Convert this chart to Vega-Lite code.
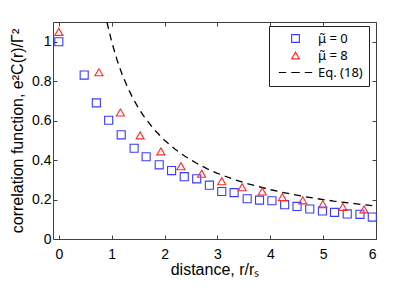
{
  "$schema": "https://vega.github.io/schema/vega-lite/v6.json",
  "width": 323,
  "height": 217,
  "autosize": "none",
  "padding": {"left": 53, "top": 22, "right": 39, "bottom": 54},
  "background": "white",
  "config": {
    "font": "Liberation Sans",
    "view": {"stroke": "#404040", "strokeWidth": 1},
    "axis": {
      "grid": false,
      "domain": false,
      "tickSize": -4,
      "tickColor": "#404040",
      "labelFont": "Liberation Sans",
      "labelFontSize": 14,
      "labelColor": "#000000",
      "titleFont": "Liberation Sans",
      "titleFontSize": 16,
      "titleFontWeight": "normal",
      "titleColor": "#000000"
    },
    "legend": {
      "labelFont": "Noto Sans",
      "labelFontSize": 13,
      "labelColor": "#000000"
    }
  },
  "data": {
    "values": [
      {"series": "μ̃ = 0", "x": 0.0, "y": 1.0},
      {"series": "μ̃ = 0", "x": 0.48, "y": 0.831},
      {"series": "μ̃ = 0", "x": 0.71, "y": 0.69},
      {"series": "μ̃ = 0", "x": 0.943, "y": 0.602},
      {"series": "μ̃ = 0", "x": 1.18, "y": 0.528},
      {"series": "μ̃ = 0", "x": 1.424, "y": 0.46},
      {"series": "μ̃ = 0", "x": 1.652, "y": 0.417},
      {"series": "μ̃ = 0", "x": 1.899, "y": 0.376},
      {"series": "μ̃ = 0", "x": 2.133, "y": 0.347},
      {"series": "μ̃ = 0", "x": 2.373, "y": 0.316},
      {"series": "μ̃ = 0", "x": 2.608, "y": 0.305},
      {"series": "μ̃ = 0", "x": 2.848, "y": 0.273},
      {"series": "μ̃ = 0", "x": 3.082, "y": 0.241},
      {"series": "μ̃ = 0", "x": 3.316, "y": 0.235},
      {"series": "μ̃ = 0", "x": 3.563, "y": 0.204},
      {"series": "μ̃ = 0", "x": 3.797, "y": 0.197},
      {"series": "μ̃ = 0", "x": 4.031, "y": 0.194},
      {"series": "μ̃ = 0", "x": 4.272, "y": 0.174},
      {"series": "μ̃ = 0", "x": 4.506, "y": 0.165},
      {"series": "μ̃ = 0", "x": 4.747, "y": 0.152},
      {"series": "μ̃ = 0", "x": 4.987, "y": 0.142},
      {"series": "μ̃ = 0", "x": 5.215, "y": 0.135},
      {"series": "μ̃ = 0", "x": 5.456, "y": 0.127},
      {"series": "μ̃ = 0", "x": 5.696, "y": 0.125},
      {"series": "μ̃ = 0", "x": 5.93, "y": 0.111},
      {"series": "μ̃ = 8", "x": 0.0, "y": 1.05},
      {"series": "μ̃ = 8", "x": 0.759, "y": 0.845},
      {"series": "μ̃ = 8", "x": 1.165, "y": 0.641},
      {"series": "μ̃ = 8", "x": 1.538, "y": 0.525},
      {"series": "μ̃ = 8", "x": 1.93, "y": 0.444},
      {"series": "μ̃ = 8", "x": 2.31, "y": 0.369},
      {"series": "μ̃ = 8", "x": 2.702, "y": 0.331},
      {"series": "μ̃ = 8", "x": 3.082, "y": 0.293},
      {"series": "μ̃ = 8", "x": 3.468, "y": 0.262},
      {"series": "μ̃ = 8", "x": 3.848, "y": 0.241},
      {"series": "μ̃ = 8", "x": 4.228, "y": 0.212},
      {"series": "μ̃ = 8", "x": 4.614, "y": 0.196},
      {"series": "μ̃ = 8", "x": 4.994, "y": 0.176},
      {"series": "μ̃ = 8", "x": 5.373, "y": 0.162},
      {"series": "μ̃ = 8", "x": 5.772, "y": 0.15},
      {"series": "Eq. (18)", "x": 0.91, "y": 1.1},
      {"series": "Eq. (18)", "x": 1.0, "y": 1.0},
      {"series": "Eq. (18)", "x": 1.1, "y": 0.909},
      {"series": "Eq. (18)", "x": 1.2, "y": 0.833},
      {"series": "Eq. (18)", "x": 1.3, "y": 0.769},
      {"series": "Eq. (18)", "x": 1.4, "y": 0.714},
      {"series": "Eq. (18)", "x": 1.5, "y": 0.667},
      {"series": "Eq. (18)", "x": 1.6, "y": 0.625},
      {"series": "Eq. (18)", "x": 1.8, "y": 0.556},
      {"series": "Eq. (18)", "x": 2.0, "y": 0.5},
      {"series": "Eq. (18)", "x": 2.2, "y": 0.455},
      {"series": "Eq. (18)", "x": 2.4, "y": 0.417},
      {"series": "Eq. (18)", "x": 2.6, "y": 0.385},
      {"series": "Eq. (18)", "x": 2.8, "y": 0.357},
      {"series": "Eq. (18)", "x": 3.0, "y": 0.333},
      {"series": "Eq. (18)", "x": 3.3, "y": 0.303},
      {"series": "Eq. (18)", "x": 3.6, "y": 0.278},
      {"series": "Eq. (18)", "x": 4.0, "y": 0.25},
      {"series": "Eq. (18)", "x": 4.4, "y": 0.227},
      {"series": "Eq. (18)", "x": 4.8, "y": 0.208},
      {"series": "Eq. (18)", "x": 5.2, "y": 0.192},
      {"series": "Eq. (18)", "x": 5.6, "y": 0.179},
      {"series": "Eq. (18)", "x": 6.0, "y": 0.167}
    ]
  },
  "layer": [
    {
      "transform": [{"filter": "datum.series === 'Eq. (18)'"}],
      "mark": {"type": "line", "strokeDash": [7, 5], "strokeWidth": 1.3, "clip": true, "color": "#000000"},
      "encoding": {
        "x": {
          "field": "x", "type": "quantitative",
          "scale": {"domain": [-0.11, 6], "nice": false, "zero": false},
          "axis": {"values": [0, 1, 2, 3, 4, 5, 6], "format": "d", "labelPadding": 12, "title": "distance,  r/rₛ", "titlePadding": 0}
        },
        "y": {
          "field": "y", "type": "quantitative",
          "scale": {"domain": [0, 1.1], "nice": false},
          "axis": {"values": [0, 0.2, 0.4, 0.6, 0.8, 1], "format": "~g", "labelPadding": 6, "title": "correlation function,  e²C(r)/Γ²", "titlePadding": 6}
        }
      }
    },
    {
      "mark": {"type": "point", "opacity": 0},
      "encoding": {
        "x": {"field": "x", "type": "quantitative", "axis": {"orient": "top", "values": [0, 1, 2, 3, 4, 5, 6], "labels": false, "title": null}},
        "y": {"field": "y", "type": "quantitative", "axis": {"orient": "right", "values": [0, 0.2, 0.4, 0.6, 0.8, 1], "labels": false, "title": null}}
      }
    },
    {
      "transform": [{"filter": "datum.series !== 'Eq. (18)'"}],
      "mark": {"type": "point", "filled": false, "size": 65, "strokeWidth": 1.1, "opacity": 1},
      "encoding": {
        "x": {"field": "x", "type": "quantitative", "axis": null},
        "y": {"field": "y", "type": "quantitative", "axis": null},
        "color": {
          "field": "series", "type": "nominal",
          "scale": {"domain": ["μ̃ = 0", "μ̃ = 8", "Eq. (18)"], "range": ["#3a3aff", "#ff2a2a", "#000000"]},
          "legend": {
            "title": null,
            "orient": "none",
            "legendX": 216,
            "legendY": 4,
            "fillColor": "white",
            "strokeColor": "#202020",
            "padding": 6,
            "rowPadding": 3,
            "symbolStrokeWidth": 1.1,
            "symbolSize": 60,
            "labelOffset": 16,
            "symbolOffset": 14
          }
        },
        "shape": {
          "field": "series", "type": "nominal",
          "scale": {"domain": ["μ̃ = 0", "μ̃ = 8", "Eq. (18)"], "range": ["square", "triangle-up", "M-4.3,0H-2.4M-1.1,0H1.1M2.4,0H4.3"]},
          "legend": {
            "title": null,
            "orient": "none",
            "legendX": 216,
            "legendY": 4,
            "fillColor": "white",
            "strokeColor": "#202020",
            "padding": 6,
            "rowPadding": 3,
            "symbolStrokeWidth": 1.1,
            "symbolSize": 60,
            "labelOffset": 16,
            "symbolOffset": 14
          }
        }
      }
    }
  ],
  "resolve": {"axis": {"x": "independent", "y": "independent"}}
}
